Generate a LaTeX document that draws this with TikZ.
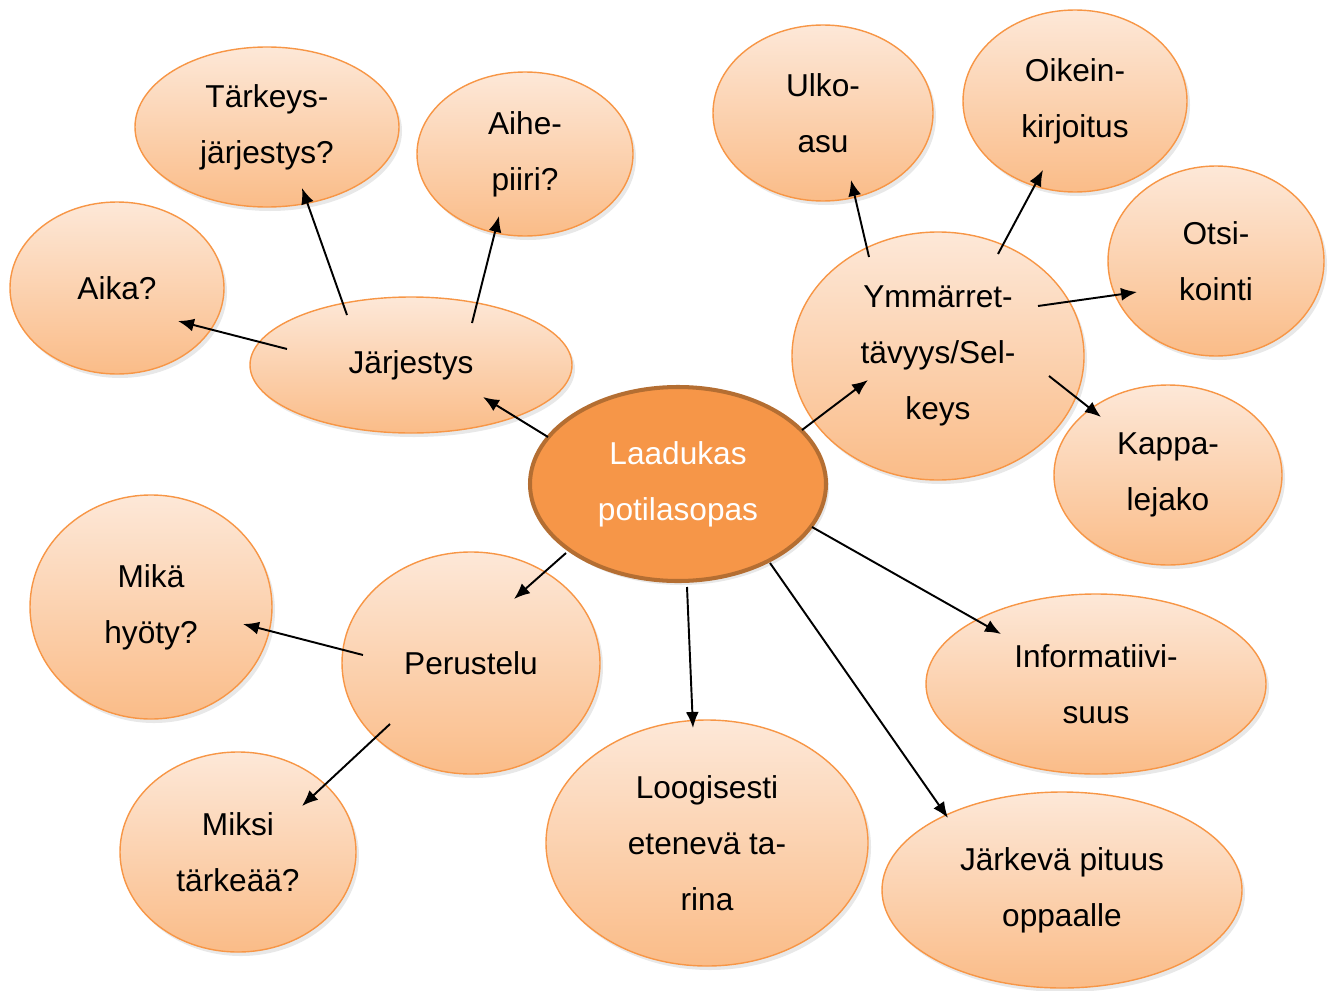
\documentclass[tikz,border=0pt]{standalone}
\usepackage{fontspec}
\setmainfont{Liberation Sans}
\usetikzlibrary{arrows.meta,shapes.geometric,shadows}
\definecolor{peachtop}{RGB}{253,232,216}
\definecolor{peachbot}{RGB}{250,188,136}
\definecolor{peachline}{RGB}{247,150,70}
\definecolor{coreorange}{RGB}{246,150,72}
\definecolor{coreline}{RGB}{180,110,50}

\begin{document}
\begin{tikzpicture}[x=0.2mm, y=-0.2mm,
    bub/.style 2 args = {ellipse, draw=peachline, line width=0.8pt,
        top color=peachtop, bottom color=peachbot, inner sep=0pt, align=center,
        font=\fontsize{18}{31.8}\selectfont,
        minimum width=#1*0.4mm, minimum height=#2*0.4mm,
        drop shadow={shadow xshift=0.6mm, shadow yshift=-0.8mm, opacity=0.18}},
    core/.style = {ellipse, draw=coreline, line width=2.3pt, fill=coreorange,
        text=white, inner sep=0pt, align=center,
        font=\fontsize{18}{31.8}\selectfont,
        minimum width=296*0.2mm, minimum height=194*0.2mm,
        drop shadow={shadow xshift=0.6mm, shadow yshift=-0.8mm, opacity=0.18}},
    arr/.style = {-{Latex[length=3.2mm, width=2.6mm]}, line width=1.1pt}]
    \useasboundingbox (0,0) rectangle (1333,990);

    % main topic
    \node[core] (lp) at (678,484) {Laadukas\\potilasopas};

    % left upper branch
    \node[bub={161}{68}] (jar) at (411,365) {Järjestys};
    \node[bub={107}{86}] (aika) at (117,288) {Aika?};
    \node[bub={132}{80}] (tark) at (267,127) {Tärkeys-\\järjestys?};
    \node[bub={108}{82}] (aihe) at (525,154) {Aihe-\\piiri?};

    % right upper branch
    \node[bub={146}{124}] (ymm) at (938,356) {Ymmärret-\\tävyys/Sel-\\keys};
    \node[bub={110}{88}] (ulko) at (823,113) {Ulko-\\asu};
    \node[bub={112}{91}] (oik) at (1075,101) {Oikein-\\kirjoitus};
    \node[bub={108}{95}] (otsi) at (1216,261) {Otsi-\\kointi};
    \node[bub={114}{90}] (kap) at (1168,475) {Kappa-\\lejako};

    % left lower branch
    \node[bub={129}{111}] (per) at (471,663) {Perustelu};
    \node[bub={121}{112}] (hyo) at (151,607) {Mikä\\hyöty?};
    \node[bub={118}{100}] (miksi) at (238,852) {Miksi\\tärkeää?};

    % bottom and right
    \node[bub={161}{123}] (loog) at (707,843) {Loogisesti\\etenevä ta-\\rina};
    \node[bub={170}{90}] (inf) at (1096,684) {Informatiivi-\\suus};
    \node[bub={180}{98}] (pit) at (1062,890) {Järkevä pituus\\oppaalle};

    % arrow ends
    \coordinate (lp-jar) at (548,437);   \coordinate (jar-lp) at (483,397);
    \coordinate (jar-aika) at (287,349); \coordinate (aika-jar) at (178,321);
    \coordinate (jar-tark) at (347,315); \coordinate (tark-jar) at (302,188);
    \coordinate (jar-aihe) at (472,323); \coordinate (aihe-jar) at (499,216);
    \coordinate (lp-ymm) at (802,430);   \coordinate (ymm-lp) at (868,380);
    \coordinate (ymm-ulko) at (869,257); \coordinate (ulko-ymm) at (851,180);
    \coordinate (ymm-oik) at (998,254);  \coordinate (oik-ymm) at (1043,170);
    \coordinate (ymm-otsi) at (1038,306);\coordinate (otsi-ymm) at (1137,292);
    \coordinate (ymm-kap) at (1049,376); \coordinate (kap-ymm) at (1101,417);
    \coordinate (lp-per) at (566,553);   \coordinate (per-lp) at (514,599);
    \coordinate (per-hyo) at (363,655);  \coordinate (hyo-per) at (243,624);
    \coordinate (per-miksi) at (390,724);\coordinate (miksi-per) at (302,806);
    \coordinate (lp-loog) at (687,587);  \coordinate (loog-lp) at (693,728);
    \coordinate (lp-pit) at (770,563);   \coordinate (pit-lp) at (948,818);
    \coordinate (lp-inf) at (812,527);   \coordinate (inf-lp) at (1001,634);

    \path[arr] (lp-jar) edge (jar-lp);
    \path[arr] (jar-aika) edge (aika-jar);
    \path[arr] (jar-tark) edge (tark-jar);
    \path[arr] (jar-aihe) edge (aihe-jar);
    \path[arr] (lp-ymm) edge (ymm-lp);
    \path[arr] (ymm-ulko) edge (ulko-ymm);
    \path[arr] (ymm-oik) edge (oik-ymm);
    \path[arr] (ymm-otsi) edge (otsi-ymm);
    \path[arr] (ymm-kap) edge (kap-ymm);
    \path[arr] (lp-per) edge (per-lp);
    \path[arr] (per-hyo) edge (hyo-per);
    \path[arr] (per-miksi) edge (miksi-per);
    \path[arr] (lp-loog) edge (loog-lp);
    \path[arr] (lp-pit) edge (pit-lp);
    \path[arr] (lp-inf) edge (inf-lp);
\end{tikzpicture}
\end{document}
